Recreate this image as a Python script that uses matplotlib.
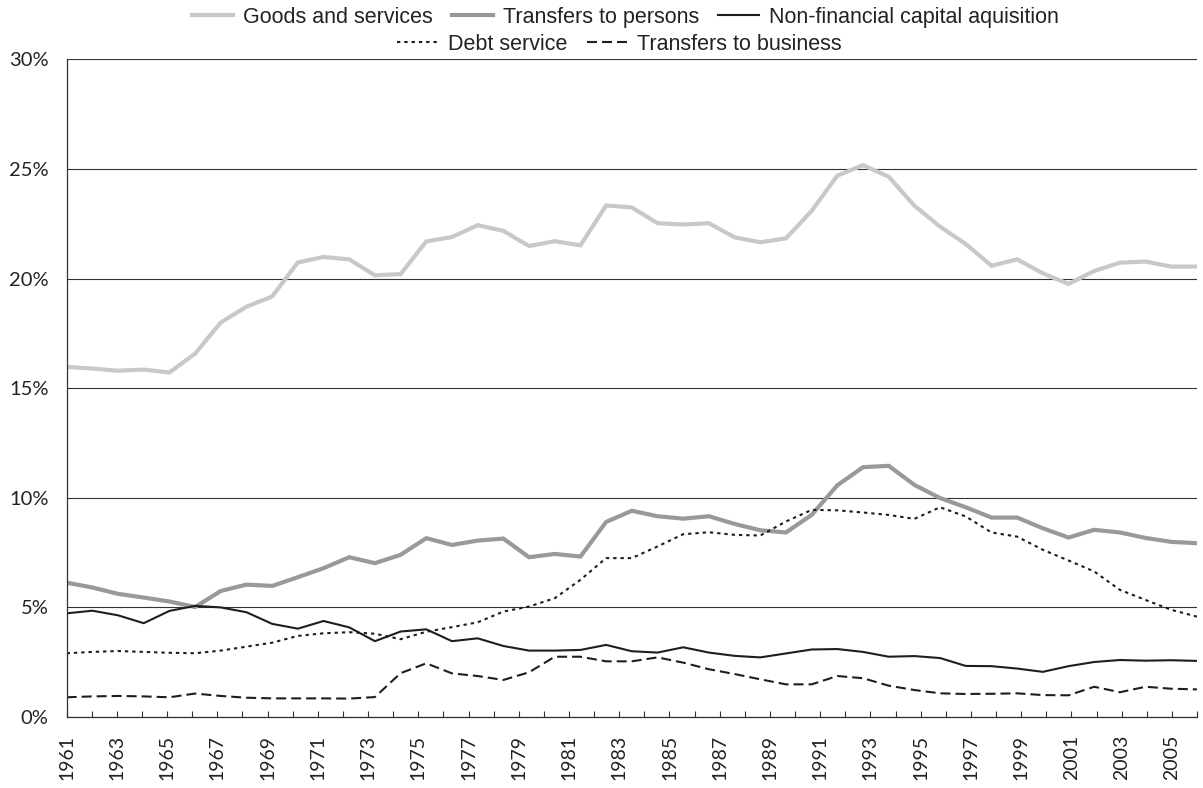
import numpy as np
import matplotlib.pyplot as plt
from matplotlib.lines import Line2D

# shares of spending, one value per year 1961-2005
years = list(range(1961, 2006))
goods = [15.97, 15.90, 15.80, 15.85, 15.72, 16.58, 18.00, 18.72, 19.19, 20.74,
         20.99, 20.88, 20.15, 20.21, 21.70, 21.90, 22.44, 22.18, 21.49, 21.71,
         21.52, 23.34, 23.25, 22.53, 22.47, 22.53, 21.89, 21.66, 21.84, 23.09,
         24.70, 25.18, 24.65, 23.33, 22.37, 21.58, 20.59, 20.88, 20.24, 19.76,
         20.35, 20.73, 20.78, 20.55, 20.55]
persons = [6.13, 5.91, 5.62, 5.45, 5.27, 5.02, 5.75, 6.04, 5.98, 6.38,
           6.79, 7.29, 7.02, 7.40, 8.16, 7.85, 8.05, 8.14, 7.29, 7.44,
           7.32, 8.90, 9.41, 9.16, 9.05, 9.16, 8.81, 8.52, 8.42, 9.22,
           10.57, 11.40, 11.46, 10.59, 9.99, 9.57, 9.10, 9.10, 8.61, 8.19,
           8.54, 8.42, 8.17, 7.99, 7.93]
capital = [4.73, 4.85, 4.64, 4.28, 4.84, 5.07, 5.00, 4.78, 4.25, 4.03,
           4.38, 4.09, 3.46, 3.90, 4.00, 3.46, 3.59, 3.24, 3.03, 3.03,
           3.06, 3.29, 3.00, 2.94, 3.18, 2.94, 2.79, 2.72, 2.90, 3.08,
           3.10, 2.97, 2.75, 2.78, 2.69, 2.33, 2.32, 2.21, 2.06, 2.32,
           2.51, 2.60, 2.57, 2.59, 2.56]
debt = [2.91, 2.97, 3.01, 2.97, 2.93, 2.91, 3.03, 3.21, 3.39, 3.70,
        3.82, 3.87, 3.80, 3.55, 3.89, 4.10, 4.32, 4.81, 5.04, 5.42,
        6.26, 7.25, 7.25, 7.78, 8.34, 8.43, 8.31, 8.28, 8.92, 9.45,
        9.43, 9.33, 9.22, 9.04, 9.57, 9.15, 8.42, 8.23, 7.63, 7.14,
        6.64, 5.80, 5.34, 4.89, 4.58]
business = [0.90, 0.94, 0.96, 0.94, 0.90, 1.07, 0.96, 0.88, 0.85, 0.85,
            0.85, 0.84, 0.91, 2.00, 2.45, 1.99, 1.87, 1.69, 2.04, 2.75,
            2.75, 2.54, 2.54, 2.72, 2.48, 2.18, 1.96, 1.72, 1.49, 1.49,
            1.87, 1.77, 1.43, 1.23, 1.08, 1.05, 1.06, 1.08, 1.00, 0.99,
            1.38, 1.13, 1.38, 1.29, 1.26]

axis_years = np.arange(1961, 2007)
tick_labels = [str(y) if (y - 1961) % 2 == 0 else "" for y in axis_years]
y_ticks = [0, 5, 10, 15, 20, 25, 30]

# the 45 yearly points are spread over the whole category axis
xpos = np.linspace(axis_years[0], axis_years[-1], len(years))

plt.rcParams["font.family"] = ["Lato", "DejaVu Sans"]
legend_font = ["Liberation Sans Narrow", "Liberation Sans", "DejaVu Sans"]

fig = plt.figure(figsize=(12.03, 7.88), dpi=100)
ax = fig.add_axes([0.0554, 0.0901, 0.9396, 0.8344])

ax.plot(xpos, goods, color="#c8c8c8", lw=3.0, solid_joinstyle="miter")
ax.plot(xpos, persons, color="#999999", lw=3.0, solid_joinstyle="miter")
ax.plot(xpos, capital, color="#1e1e1e", lw=1.5)
ax.plot(xpos, debt, color="#1e1e1e", lw=1.5, dashes=(1.6, 1.9))
ax.plot(xpos, business, color="#1e1e1e", lw=1.5, dashes=(4.8, 2.4))

ax.set_xlim(axis_years[0], axis_years[-1])
ax.set_ylim(0, 30)
ax.set_xticks(axis_years)
ax.set_xticklabels(tick_labels, rotation=90, fontsize=14, color="#222222")
ax.set_yticks(y_ticks)
ax.set_yticklabels([f"{v}%" for v in y_ticks], fontsize=14.5, color="#222222")
ax.tick_params(axis="x", direction="in", length=4, width=0.8, color="#333333", pad=13)
ax.tick_params(axis="y", length=0, pad=13)

ax.grid(axis="y", color="#333333", lw=0.8)
ax.set_axisbelow(True)
for side in ["top", "right"]:
    ax.spines[side].set_visible(False)
for side in ["left", "bottom"]:
    ax.spines[side].set_color("#333333")
    ax.spines[side].set_linewidth(0.9)

row1 = [Line2D([], [], color="#c8c8c8", lw=3.0),
        Line2D([], [], color="#999999", lw=3.0),
        Line2D([], [], color="#1e1e1e", lw=1.5)]
row2 = [Line2D([], [], color="#1e1e1e", lw=1.5, dashes=(1.6, 1.9)),
        Line2D([], [], color="#1e1e1e", lw=1.5, dashes=(4.8, 2.4))]
leg_kw = dict(frameon=False, handlelength=1.9, handletextpad=0.45,
              columnspacing=0.9, prop={"family": legend_font, "size": 15.5})
leg1 = fig.legend(row1, ["Goods and services", "Transfers to persons",
                         "Non-financial capital aquisition"],
                  loc="center", bbox_to_anchor=(0.52, 0.978), ncol=3, **leg_kw)
leg2 = fig.legend(row2, ["Debt service", "Transfers to business"],
                  loc="center", bbox_to_anchor=(0.515, 0.944), ncol=2, **leg_kw)
for leg in (leg1, leg2):
    for t in leg.get_texts():
        t.set_color("#222222")

fig.savefig("out.png", dpi=100)
